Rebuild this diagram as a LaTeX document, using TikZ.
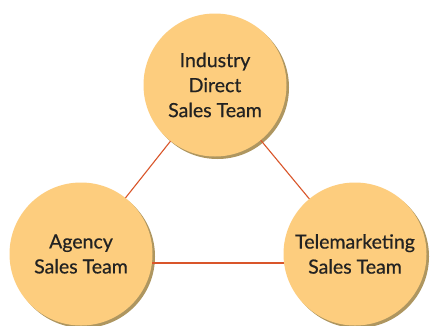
\documentclass[tikz,border=0pt]{standalone}
\usepackage{fontspec}
\setmainfont{Lato}[BoldFont={Lato}, BoldFeatures={FakeBold=0.6}]
\definecolor{circfill}{HTML}{FDCD7E}
\definecolor{circshadow}{HTML}{AE9660}
\definecolor{linkcol}{HTML}{D9552A}
\definecolor{txtcol}{HTML}{222222}
\begin{document}
\begin{tikzpicture}[x=1pt,y=1pt,
  team/.style={circle, minimum size=143pt, inner sep=0pt, fill=circfill, text=txtcol,
    align=center, font=\fontsize{19.5}{25}\selectfont\bfseries},
  teamshadow/.style={circle, minimum size=143pt, inner sep=0pt, fill=circshadow},
  link/.style={draw=linkcol, line width=1.1pt}]
\useasboundingbox (0,0) rectangle (430,325);
\fill[white] (0,0) rectangle (430,325);
% shadows
\node[teamshadow] (Ts) at (217.5,237.5) {};
\node[teamshadow] (Ls) at (83.5,68.5) {};
\node[teamshadow] (Rs) at (357.5,68.5) {};
% connectors (behind circles)
\coordinate (Tc) at (215,240);
\coordinate (Lc) at (81,71);
\coordinate (Rc) at (355,71);
\draw[link] (Tc) -- (Lc);
\draw[link] (Tc) -- (Rc);
\draw[link] ([yshift=-9pt]Lc) -- ([yshift=-9pt]Rc);
% circles
\node[team] (T) at (Tc) {Industry\\Direct\\Sales Team};
\node[team] (L) at (Lc) {Agency\\Sales Team};
\node[team] (R) at (Rc) {Telemarketing\\Sales Team};
\end{tikzpicture}
\end{document}
